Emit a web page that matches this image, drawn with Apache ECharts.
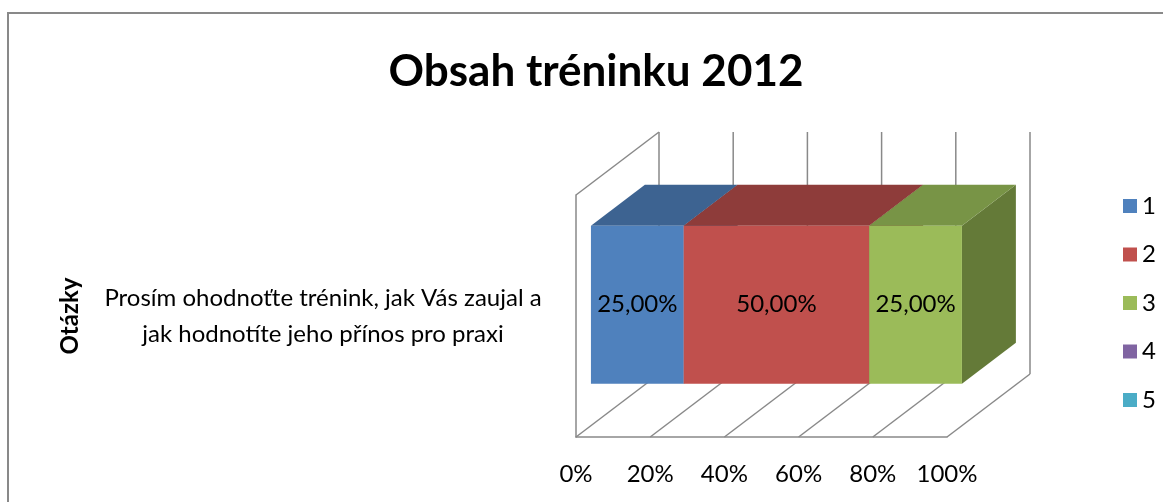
<!DOCTYPE html>
<html>
<head>
<meta charset="utf-8">
<script src="https://cdn.jsdelivr.net/npm/echarts@6/dist/echarts.min.js"></script>
<style>html,body{margin:0;padding:0;background:#fff;}#c{width:1163px;height:502px;}</style>
</head>
<body>
<div id="c"></div>
<script>
// ---- data ----
var categories = ['Prosím ohodnoťte trénink, jak Vás zaujal a\njak hodnotíte jeho přínos pro praxi'];
var seriesNames = ['1', '2', '3', '4', '5'];
var s1 = [0.25];
var s2 = [0.50];
var s3 = [0.25];
var s4 = [0];
var s5 = [0];
var tickValues = [0, 0.2, 0.4, 0.6, 0.8, 1.0];
var tickLabels = ['0%', '20%', '40%', '60%', '80%', '100%'];
var barLabels1 = ['25,00%'];
var barLabels2 = ['50,00%'];
var barLabels3 = ['25,00%'];
var barLabels4 = [''];
var barLabels5 = [''];

// ---- styles ----
var FONT = 'Lato, "Open Sans", sans-serif';
var GRID_COLOR = '#898989';
var DEPTH = { x: 83, y: -63 };      // full 3D depth of the plot
var FRONT_GAP = 0.18;               // bar front offset (fraction of depth)
var BAR_DEPTH = 0.65;               // bar depth (fraction of depth)
var BAR_THICK = 0.653;              // bar thickness (fraction of band)
var palette = [
  { front: '#4F81BD', top: '#3D6391', side: '#35587F' },
  { front: '#C0504D', top: '#8E3C3A', side: '#7E3533' },
  { front: '#9BBB59', top: '#789446', side: '#647A38' },
  { front: '#8064A2', top: '#634C7E', side: '#54406B' },
  { front: '#4BACC6', top: '#38869B', side: '#2F7284' }
];

var allValues = [s1, s2, s3, s4, s5];
var allLabels = [barLabels1, barLabels2, barLabels3, barLabels4, barLabels5];

// cumulative stacking
var cum = categories.map(function () { return 0; });
var stacked = allValues.map(function (arr) {
  return arr.map(function (v, i) {
    var start = cum[i];
    cum[i] += v;
    return [start, cum[i], i];
  });
});

function makeBarRenderer(k) {
  return function (params, api) {
    var s = api.value(0), e = api.value(1), cat = api.value(2);
    if (e - s <= 0) return null;
    var p0 = api.coord([s, cat]);
    var p1 = api.coord([e, cat]);
    var band = api.size([0, 1])[1];
    var h = band * BAR_THICK;
    var fx = DEPTH.x * FRONT_GAP, fy = DEPTH.y * FRONT_GAP;
    var dx = DEPTH.x * BAR_DEPTH, dy = DEPTH.y * BAR_DEPTH;
    var x0 = p0[0] + fx, x1 = p1[0] + fx;
    var yt = p0[1] - h / 2 + fy, yb = p0[1] + h / 2 + fy;
    var c = palette[k];
    var label = allLabels[k][params.dataIndex] || '';
    return {
      type: 'group',
      children: [
        { type: 'polygon', shape: { points: [[x1, yt], [x1 + dx, yt + dy], [x1 + dx, yb + dy], [x1, yb]] }, style: { fill: c.side } },
        { type: 'polygon', shape: { points: [[x0, yt], [x1, yt], [x1 + dx, yt + dy], [x0 + dx, yt + dy]] }, style: { fill: c.top } },
        { type: 'rect', shape: { x: x0, y: yt, width: x1 - x0, height: yb - yt }, style: { fill: c.front } },
        { type: 'text', style: { text: label, x: (x0 + x1) / 2, y: (yt + yb) / 2, align: 'center', verticalAlign: 'middle', fill: '#000', font: '24px ' + FONT } }
      ]
    };
  };
}

function renderFrame(params, api) {
  var t = api.value(0);
  var cs = params.coordSys;
  var x = api.coord([t, 0])[0];
  var yBottom = cs.y + cs.height;
  var yTop = cs.y;
  var st = { stroke: GRID_COLOR, lineWidth: 1.5 };
  var children = [
    { type: 'line', shape: { x1: x, y1: yBottom, x2: x + DEPTH.x, y2: yBottom + DEPTH.y }, style: st },
    { type: 'line', shape: { x1: x + DEPTH.x, y1: yBottom + DEPTH.y, x2: x + DEPTH.x, y2: yTop + DEPTH.y }, style: st }
  ];
  if (params.dataIndex === 0) {
    children.push({ type: 'line', shape: { x1: x, y1: yTop, x2: x + DEPTH.x, y2: yTop + DEPTH.y }, style: st });
  }
  return { type: 'group', children: children };
}

var series = [{
  type: 'custom',
  name: '_frame',
  renderItem: renderFrame,
  data: tickValues.map(function (t) { return [t]; }),
  z: 1,
  silent: true,
  legendHoverLink: false
}];
seriesNames.forEach(function (n, k) {
  series.push({
    type: 'custom',
    name: n,
    renderItem: makeBarRenderer(k),
    itemStyle: { color: palette[k].front },
    encode: { x: [0, 1], y: 2 },
    data: stacked[k],
    z: 2 + k
  });
});

var chart = echarts.init(document.getElementById('c'));
chart.setOption({
  animation: false,
  backgroundColor: '#fff',
  title: {
    text: 'Obsah tréninku 2012',
    left: 591,
    textAlign: 'center',
    top: 45,
    textStyle: { fontFamily: FONT, fontWeight: 'bold', fontSize: 44, color: '#000' }
  },
  legend: {
    orient: 'vertical',
    left: 1118,
    top: 188,
    itemWidth: 14,
    itemHeight: 14,
    itemGap: 22.5,
    icon: 'rect',
    data: seriesNames,
    textStyle: { fontFamily: FONT, fontSize: 24, color: '#000', lineHeight: 26 }
  },
  grid: { left: 576, right: 216, top: 195, bottom: 65, containLabel: false },
  xAxis: {
    type: 'value',
    min: 0,
    max: 1,
    interval: 0.2,
    axisLine: { show: true, lineStyle: { color: GRID_COLOR, width: 1.5 } },
    axisTick: { show: false },
    splitLine: { show: false },
    axisLabel: {
      margin: 25,
      fontFamily: FONT,
      fontSize: 24,
      color: '#000',
      formatter: function (v) { return tickLabels[Math.round(v / 0.2)]; }
    }
  },
  yAxis: {
    type: 'category',
    data: categories,
    name: 'Otázky',
    nameLocation: 'middle',
    nameRotate: 90,
    nameGap: 494,
    nameTextStyle: { fontFamily: FONT, fontWeight: 'bold', fontSize: 24, color: '#000' },
    axisLine: { show: true, lineStyle: { color: GRID_COLOR, width: 1.5 } },
    axisTick: { show: false },
    axisLabel: {
      margin: 253,
      align: 'center',
      lineHeight: 36,
      fontFamily: FONT,
      fontSize: 24,
      color: '#000'
    }
  },
  graphic: [{
    type: 'rect',
    shape: { x: 8, y: 13, width: 1300, height: 700 },
    style: { fill: 'none', stroke: GRID_COLOR, lineWidth: 2 },
    silent: true,
    z: 100
  }],
  series: series
});
</script>
</body>
</html>
